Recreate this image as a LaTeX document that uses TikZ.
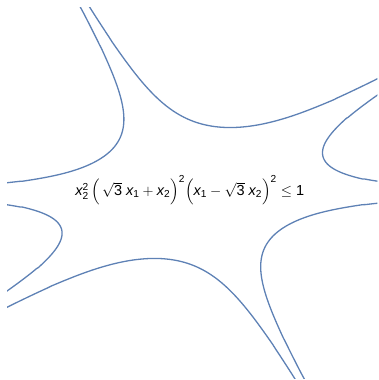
\documentclass[tikz,border=0pt]{standalone}
\usepackage{amsmath}
\usepackage{fontspec}
\setmainfont{Liberation Sans}
\definecolor{curveblue}{RGB}{94,129,181}
\tikzset{
  declare function={rr(\t)=pow(2*abs(sin(\t)*sin(2*\t+120)),-1/3);},
  branch/.style={curveblue,line width=1.3pt,samples=600,smooth}
}
\begin{document}
\begin{tikzpicture}[x=86.5pt,y=86.5pt]
	\useasboundingbox (-2.223,-2.162) rectangle (2.147,2.231);
	\begin{scope}
	\clip (-2.14,-2.14) rectangle (2.14,2.14);
	\foreach \a/\b in {0.25/29.75,30.25/119.75,120.25/179.75,180.25/209.75,210.25/299.75,300.25/359.75}
		\draw[branch] plot[domain=\a:\b] (\x:{rr(\x)});
	\end{scope}
	
	\node(ineq) at (-0.03,0.03){\fontsize{14.5}{16}\selectfont$\textit{x}_{\text{2}}^{\text{2}}\,\Bigl(\,\sqrt{\text{3}}\;\textit{x}_{\text{1}}+\textit{x}_{\text{2}}\Bigr)^{\text{2}}\Bigl(\textit{x}_{\text{1}}-\sqrt{\text{3}}\;\textit{x}_{\text{2}}\Bigr)^{\text{2}}\leq\text{1}$};
\end{tikzpicture}
\end{document}
